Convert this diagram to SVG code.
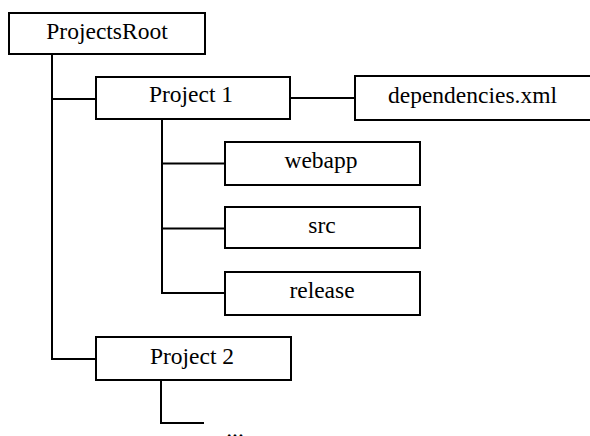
<svg xmlns="http://www.w3.org/2000/svg" width="590" height="436" viewBox="0 0 590 436">
<style>
.box{fill:#fff;stroke:#000;stroke-width:2}
.lbl{font-family:'Liberation Serif','Times New Roman','DejaVu Serif',serif;font-size:23.5px;fill:#000;text-anchor:middle}
.con{fill:none;stroke:#000;stroke-width:2}
</style>
<rect width="590" height="436" fill="#fff"/>
<g id="connectors">
<polyline class="con" points="52,54 52,359 96,359"/>
<line class="con" x1="52" y1="99" x2="96" y2="99"/>
<line class="con" x1="290" y1="98" x2="355" y2="98"/>
<polyline class="con" points="162,119 162,293 225,293"/>
<line class="con" x1="162" y1="163.5" x2="225" y2="163.5"/>
<line class="con" x1="162" y1="228.5" x2="225" y2="228.5"/>
<polyline class="con" points="161,380 161,423 204,423"/>
</g>
<g id="projectsroot"><rect class="box" x="9" y="13" width="196" height="41"/><text class="lbl" x="107" y="39">ProjectsRoot</text></g>
<g id="project1"><rect class="box" x="96" y="77" width="194" height="42"/><text class="lbl" x="191" y="102">Project 1</text></g>
<g id="dependencies"><rect class="box" x="355" y="76" width="240" height="44"/><text class="lbl" x="472.5" y="103">dependencies.xml</text></g>
<g id="webapp"><rect class="box" x="225" y="142" width="195" height="43"/><text class="lbl" x="321" y="168">webapp</text></g>
<g id="src"><rect class="box" x="225" y="207" width="195" height="41"/><text class="lbl" x="322" y="233">src</text></g>
<g id="release"><rect class="box" x="225" y="272" width="195" height="43"/><text class="lbl" x="322" y="298">release</text></g>
<g id="project2"><rect class="box" x="96" y="337" width="195" height="43"/><text class="lbl" x="192" y="364">Project 2</text></g>
<g id="ellipsis"><text class="lbl" x="235" y="437">...</text></g>
</svg>
